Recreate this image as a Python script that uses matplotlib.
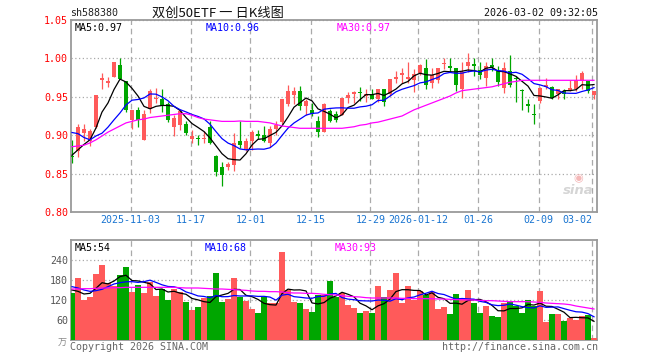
import numpy as np
import pandas as pd
import matplotlib
matplotlib.use("Agg")
import matplotlib.pyplot as plt

# ---------------------------------------------------------------- data
CODE = "sh588380"
TITLE = "双创50ETF 一 日K线图"
STAMP = "2026-03-02 09:32:05"

DATE_TICKS = [10, 20, 30, 40, 50, 58, 68, 78, 87]
DATE_LABELS = ["2025-11-03", "11-17", "12-01", "12-15", "12-29",
               "2026-01-12", "01-26", "02-09", "03-02"]

OPEN = [0.8725, 0.879, 0.9035, 0.893, 0.9105, 0.972, 0.968, 0.9755, 0.991, 0.970,
        0.920, 0.933, 0.894, 0.934, 0.947, 0.947, 0.940, 0.9105, 0.9136, 0.915,
        0.8947, 0.8955, 0.8945, 0.9105, 0.8728, 0.8588, 0.858, 0.861, 0.8925, 0.8816,
        0.893, 0.9018, 0.900, 0.8904, 0.9083, 0.9167, 0.9412, 0.952, 0.958, 0.9376,
        0.933, 0.918, 0.9047, 0.931, 0.928, 0.9268, 0.948, 0.954, 0.9566, 0.951,
        0.952, 0.9465, 0.9597, 0.953, 0.9728, 0.979, 0.9728, 0.972, 0.9816, 0.987,
        0.968, 0.972, 0.9926, 0.9886, 0.987, 0.9605, 0.9895, 0.9925, 0.985, 0.975,
        0.991, 0.9838, 0.962, 0.9838, 0.974, 0.9575, 0.941, 0.9268, 0.944, 0.963,
        0.963, 0.953, 0.9575, 0.9587, 0.9605, 0.9706, 0.9706, 0.9518]
HIGH = [0.894, 0.915, 0.915, 0.908, 0.952, 0.9816, 0.976, 0.9955, 1.000, 0.970,
        0.933, 0.937, 0.9325, 0.9605, 0.962, 0.960, 0.943, 0.9268, 0.933, 0.918,
        0.907, 0.900, 0.905, 0.918, 0.874, 0.8654, 0.8654, 0.9026, 0.919, 0.896,
        0.907, 0.907, 0.9114, 0.9114, 0.919, 0.9465, 0.965, 0.963, 0.964, 0.9465,
        0.942, 0.9245, 0.942, 0.934, 0.931, 0.948, 0.9566, 0.9575, 0.963, 0.9605,
        0.9605, 0.9605, 0.9605, 0.9737, 0.9838, 0.987, 0.9947, 0.986, 0.993, 0.999,
        0.988, 0.987, 1.001, 1.000, 0.987, 0.9947, 1.0065, 1.000, 0.9947, 0.9947,
        1.000, 0.9895, 0.9947, 1.004, 0.977, 0.9605, 0.947, 0.941, 0.963, 0.975,
        0.964, 0.9605, 0.9605, 0.972, 0.978, 0.9838, 0.9706, 0.9575]
LOW = [0.864, 0.871, 0.892, 0.886, 0.909, 0.9605, 0.963, 0.9755, 0.973, 0.9307,
       0.908, 0.911, 0.894, 0.929, 0.942, 0.930, 0.917, 0.899, 0.907, 0.9004,
       0.8895, 0.887, 0.8895, 0.8886, 0.8465, 0.8333, 0.8544, 0.8535, 0.883, 0.880,
       0.881, 0.8947, 0.8917, 0.885, 0.9004, 0.915, 0.9377, 0.940, 0.933, 0.9267,
       0.9245, 0.8974, 0.9045, 0.9167, 0.9167, 0.9268, 0.942, 0.942, 0.944, 0.943,
       0.9465, 0.943, 0.9377, 0.9515, 0.968, 0.968, 0.968, 0.956, 0.979, 0.9605,
       0.962, 0.968, 0.986, 0.9825, 0.9575, 0.9487, 0.9825, 0.977, 0.973, 0.964,
       0.9838, 0.964, 0.955, 0.963, 0.943, 0.9333, 0.930, 0.915, 0.9417, 0.9596,
       0.9465, 0.947, 0.9465, 0.9575, 0.9574, 0.960, 0.955, 0.9465]
CLOSE = [0.871, 0.9105, 0.908, 0.906, 0.952, 0.974, 0.970, 0.9955, 0.9737, 0.933,
         0.933, 0.920, 0.928, 0.958, 0.949, 0.9386, 0.920, 0.9224, 0.931, 0.9035,
         0.899, 0.8947, 0.8956, 0.8895, 0.852, 0.8478, 0.862, 0.8895, 0.887, 0.893,
         0.9048, 0.899, 0.893, 0.9083, 0.9136, 0.9465, 0.957, 0.957, 0.9376, 0.944,
         0.928, 0.9047, 0.9412, 0.919, 0.920, 0.948, 0.952, 0.9566, 0.955, 0.953,
         0.947, 0.9605, 0.9434, 0.9737, 0.976, 0.9807, 0.976, 0.980, 0.991, 0.966,
         0.978, 0.987, 0.994, 0.988, 0.965, 0.9825, 0.995, 0.990, 0.979, 0.9895,
         0.989, 0.969, 0.987, 0.965, 0.973, 0.957, 0.9377, 0.926, 0.962, 0.966,
         0.9487, 0.9605, 0.953, 0.9618, 0.972, 0.9816, 0.9574, 0.957]
VOLUME = [142, 187, 120, 128, 199, 225, 170, 162, 195, 219,
          145, 165, 142, 173, 132, 153, 120, 153, 145, 115,
          90, 99, 126, 133, 202, 115, 123, 187, 130, 116,
          94, 82, 128, 110, 110, 265, 150, 115, 112, 94,
          85, 135, 135, 178, 128, 140, 105, 97, 82, 88,
          82, 163, 130, 150, 202, 110, 162, 120, 148, 135,
          143, 94, 100, 78, 138, 127, 150, 112, 82, 103,
          72, 70, 110, 117, 103, 82, 120, 102, 148, 55,
          78, 78, 58, 67, 59, 72, 75, 7]

# moving-average points that depend on days before the visible window
MA5_LEAD = [0.874, 0.881, 0.888, 0.894]
MA10_LEAD = [0.9035, 0.902, 0.897, 0.894, 0.899, 0.9026, 0.9105, 0.920, 0.929]
MA30 = [0.885, 0.886, 0.887, 0.890, 0.894, 0.899, 0.904, 0.908, 0.912, 0.916,
        0.918, 0.920, 0.921, 0.923, 0.924, 0.925, 0.926, 0.927, 0.928, 0.928,
        0.926, 0.923, 0.921, 0.920, 0.919, 0.918, 0.918, 0.918, 0.9185, 0.918,
        0.918, 0.918, 0.917, 0.916, 0.914, 0.912, 0.911, 0.910, 0.909, 0.909,
        0.909, 0.909, 0.909, 0.909, 0.909, 0.909, 0.910, 0.911, 0.913, 0.914,
        0.916, 0.917, 0.919, 0.921, 0.923, 0.925, 0.929, 0.933, 0.936, 0.939,
        0.942, 0.945, 0.948, 0.951, 0.955, 0.958, 0.959, 0.960, 0.961, 0.962,
        0.963, 0.965, 0.967, 0.969, 0.970, 0.9715, 0.9715, 0.9715, 0.9715, 0.9715,
        0.9715, 0.9715, 0.9715, 0.9715, 0.9715, 0.9715, 0.9715, 0.9715]
VOL_MA5_LEAD = [150, 146, 138, 140]
VOL_MA10_LEAD = [160, 156, 150, 146, 148, 152, 160, 168, 172]
VOL_MA30 = [153, 153, 154, 154, 155, 156, 156, 157, 157, 158,
            158, 158, 158, 158, 158, 158, 158, 158, 157, 156,
            156, 156, 155, 154, 153, 153, 152, 151, 150, 149,
            147, 146, 146, 145, 145, 144, 142, 141, 141, 140,
            140, 139, 137, 136, 135, 133, 131, 130, 129, 127,
            126, 126, 126, 126, 126, 125, 125, 124, 124, 124,
            124, 123, 123, 122, 121, 121, 120, 120, 119, 118,
            118, 117, 116, 115, 115, 115, 115, 114, 113, 111,
            110, 109, 108, 106, 102, 99, 96, 93]

PRICE_MA_TEXT = ["MA5:0.97", "MA10:0.96", "MA30:0.97"]
VOL_MA_TEXT = ["MA5:54", "MA10:68", "MA30:93"]

PRICE_TICKS = [0.80, 0.85, 0.90, 0.95, 1.00, 1.05]
VOL_TICKS = [60, 120, 180, 240]

# ---------------------------------------------------------------- style
W, H = 660, 360
RED = "#ff5a5a"
GREEN = "#00a600"
MA_COLORS = ["#000000", "#0000ff", "#ff00ff"]
BORDER = "#9a9a9a"
GRID = "#aaaaaa"
DATE_BLUE = "#1a75d1"
MONO = "DejaVu Sans Mono"
CJK = ["Noto Sans CJK SC", "DejaVu Sans"]
FS = 7.2


def _ma(values, n, lead):
    s = pd.Series(values, dtype=float).rolling(n).mean()
    s.iloc[:len(lead)] = lead
    return s.to_numpy()


def _px(x, y):
    """pixel position (from top-left) -> figure fraction"""
    return x / W, 1 - y / H


def _frame(ax, ticks_x):
    ax.set_xlim(-1 / 6, 87.5)
    for sp in ax.spines.values():
        sp.set_color(BORDER)
        sp.set_linewidth(1.3)
    ax.set_xticks(np.array(ticks_x) - 0.25)
    ax.tick_params(length=0)
    ax.xaxis.grid(True, linestyle=(0, (4.5, 3)), color=GRID, linewidth=0.9)
    ax.yaxis.grid(True, linestyle=(0, (1, 2)), color=GRID, linewidth=0.9)
    ax.set_axisbelow(True)


def draw_price(fig):
    ax = fig.add_axes([71 / W, 148 / H, 526 / W, 192 / H])
    x = np.arange(len(CLOSE))
    o, h, l, c = map(np.array, (OPEN, HIGH, LOW, CLOSE))
    colors = np.where(c >= o, RED, GREEN)

    ax.vlines(x, l, h, colors=colors, linewidth=0.9, zorder=2)
    body = np.maximum(np.abs(c - o), 0.0015)
    ax.bar(x, body, bottom=np.minimum(o, c), width=0.8, color=colors,
           linewidth=0, zorder=3)

    lines = [_ma(CLOSE, 5, MA5_LEAD), _ma(CLOSE, 10, MA10_LEAD), np.array(MA30)]
    for y, col in zip(lines, MA_COLORS):
        ax.plot(x, y, color=col, linewidth=0.9, zorder=4)

    _frame(ax, DATE_TICKS)
    ax.set_ylim(0.80, 1.05)
    ax.set_yticks(PRICE_TICKS)
    ax.set_yticklabels([f"{v:.2f}" for v in PRICE_TICKS], color="#ff0000",
                       fontsize=FS, family=MONO)
    ax.set_xticklabels(DATE_LABELS, color=DATE_BLUE, fontsize=FS, family=MONO)
    ax.tick_params(axis="x", pad=2)
    ax.tick_params(axis="y", pad=2)
    ax.get_xticklabels()[-1].set_ha("right")

    for txt, col, px in zip(PRICE_MA_TEXT, MA_COLORS, [75, 206, 337]):
        fig.text(*_px(px, 28), txt, color=col, fontsize=FS, family=MONO,
                 ha="left", va="center")
    return ax


def draw_volume(fig):
    ax = fig.add_axes([71 / W, 20 / H, 526 / W, 100 / H])
    x = np.arange(len(VOLUME))
    colors = np.where(np.array(CLOSE) >= np.array(OPEN), RED, GREEN)
    ax.bar(x, VOLUME, width=0.85, color=colors, linewidth=0, zorder=3)

    lines = [_ma(VOLUME, 5, VOL_MA5_LEAD), _ma(VOLUME, 10, VOL_MA10_LEAD),
             np.array(VOL_MA30)]
    for y, col in zip(lines, MA_COLORS):
        ax.plot(x, y, color=col, linewidth=0.9, zorder=4)

    _frame(ax, DATE_TICKS)
    ax.set_xticklabels([])
    ax.set_ylim(0, 300)
    ax.set_yticks(VOL_TICKS)
    ax.set_yticklabels([str(v) for v in VOL_TICKS], color="#555555",
                       fontsize=FS, family=MONO)
    ax.tick_params(axis="y", pad=2)

    for txt, col, px in zip(VOL_MA_TEXT, MA_COLORS, [75, 205, 335]):
        fig.text(*_px(px, 248), txt, color=col, fontsize=FS, family=MONO,
                 ha="left", va="center")
    return ax


def main():
    fig = plt.figure(figsize=(W / 100, H / 100), dpi=100)
    fig.patch.set_facecolor("white")

    draw_price(fig)
    draw_volume(fig)

    fig.text(*_px(70, 13), CODE, fontsize=FS, family=MONO, color="#222222",
             ha="left", va="center")
    fig.text(*_px(218, 13), TITLE, fontsize=9.5, family=CJK, color="#111111",
             ha="center", va="center")
    fig.text(*_px(598, 13), STAMP, fontsize=FS, family=MONO, color="#111111",
             ha="right", va="center")

    fig.text(*_px(62, 343), "万", fontsize=6.5, family=CJK, color="#888888",
             ha="center", va="center")
    fig.text(*_px(70, 347), "Copyright 2026 SINA.COM", fontsize=FS, family=MONO,
             color="#666666", ha="left", va="center")
    fig.text(*_px(598, 347), "http://finance.sina.com.cn", fontsize=FS,
             family=MONO, color="#666666", ha="right", va="center")

    # faint sina watermark (eye + word)
    fig.text(*_px(578, 178), "◉", fontsize=8, color="#f4b8b8", ha="center",
             va="center")
    fig.text(*_px(578, 191), "sina", fontsize=9.5, fontstyle="italic",
             fontweight="bold", color="#d5d5d5", ha="center", va="center")

    fig.savefig("out.png", dpi=100)
    plt.close(fig)


if __name__ == "__main__":
    main()
